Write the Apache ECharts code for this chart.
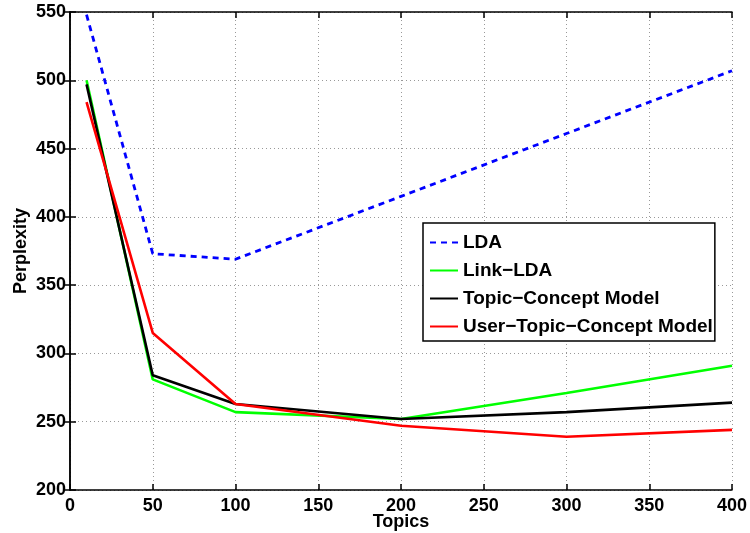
<!DOCTYPE html>
<html>
<head>
<meta charset="utf-8">
<script src="https://cdn.jsdelivr.net/npm/echarts@6/dist/echarts.min.js"></script>
<style>
  html, body { margin: 0; padding: 0; background: #fff; }
  #chart { width: 750px; height: 533px; }
</style>
</head>
<body>
<div id="chart"></div>
<script>
// Number of topics on the x axis
const topics = [10, 50, 100, 200, 300, 400];

// Perplexity per model
const ldaValues = [548, 373, 369, 415, 461, 507];
const linkLdaValues = [500, 281, 257, 252, 271, 291];
const topicConceptValues = [497, 284, 263, 252, 257, 264];
const userTopicConceptValues = [484, 315, 263, 247, 239, 244];

const seriesNames = ['LDA', 'Link\u2212LDA', 'Topic\u2212Concept Model', 'User\u2212Topic\u2212Concept Model'];

const FONT = 'Liberation Sans, Arial, Helvetica, sans-serif';

function pairs(values) {
  return topics.map((t, i) => [t, values[i]]);
}

const chart = echarts.init(document.getElementById('chart'), null, { renderer: 'canvas' });

const frameLine = { show: true, lineStyle: { color: '#000', width: 1.5 } };
const innerTick = { show: true, inside: true, length: 6, lineStyle: { color: '#000', width: 1.5 } };
const dottedGrid = { show: true, lineStyle: { color: '#999', type: [1, 3], width: 1 } };

chart.setOption({
  animation: false,
  backgroundColor: '#fff',
  grid: { left: 70, right: 18, top: 12, bottom: 43, containLabel: false, outerBoundsMode: 'none' },
  legend: {
    orient: 'vertical',
    left: 423,
    top: 223,
    padding: [10, 2, 5, 6],
    itemGap: 9,
    itemWidth: 28,
    itemHeight: 19,
    backgroundColor: '#fff',
    borderColor: '#000',
    borderWidth: 1.5,
    borderRadius: 0,
    itemStyle: { opacity: 0 },
    textStyle: { fontFamily: FONT, fontWeight: 'bold', fontSize: 19, color: '#000' },
    data: seriesNames
  },
  xAxis: [
    {
      type: 'value', min: 0, max: 400, interval: 50,
      name: 'Topics', nameLocation: 'middle', nameGap: 23, nameMoveOverlap: false,
      nameTextStyle: { fontFamily: FONT, fontWeight: 'bold', fontSize: 18, color: '#000' },
      axisLine: frameLine, axisTick: innerTick,
      axisLabel: { fontFamily: FONT, fontWeight: 'bold', fontSize: 18, color: '#000', margin: 7 },
      splitLine: dottedGrid
    },
    {
      type: 'value', min: 0, max: 400, interval: 50, position: 'top',
      axisLine: frameLine, axisTick: innerTick,
      axisLabel: { show: false }, splitLine: { show: false }
    }
  ],
  yAxis: [
    {
      type: 'value', min: 200, max: 550, interval: 50,
      name: 'Perplexity', nameLocation: 'middle', nameGap: 40, nameMoveOverlap: false,
      nameTextStyle: { fontFamily: FONT, fontWeight: 'bold', fontSize: 18, color: '#000' },
      axisLine: frameLine, axisTick: innerTick,
      axisLabel: { fontFamily: FONT, fontWeight: 'bold', fontSize: 18, color: '#000', margin: 4 },
      splitLine: dottedGrid
    },
    {
      type: 'value', min: 200, max: 550, interval: 50, position: 'right',
      axisLine: frameLine, axisTick: innerTick,
      axisLabel: { show: false }, splitLine: { show: false }
    }
  ],
  series: [
    {
      name: seriesNames[0], type: 'line', data: pairs(ldaValues),
      symbol: 'none', color: '#0000ff',
      lineStyle: { color: '#0000ff', width: 2.8, type: [6, 5] }
    },
    {
      name: seriesNames[1], type: 'line', data: pairs(linkLdaValues),
      symbol: 'none', color: '#00ff00',
      lineStyle: { color: '#00ff00', width: 2.6 }
    },
    {
      name: seriesNames[2], type: 'line', data: pairs(topicConceptValues),
      symbol: 'none', color: '#000000',
      lineStyle: { color: '#000000', width: 2.6 }
    },
    {
      name: seriesNames[3], type: 'line', data: pairs(userTopicConceptValues),
      symbol: 'none', color: '#ff0000',
      lineStyle: { color: '#ff0000', width: 2.6 }
    }
  ]
});
</script>
</body>
</html>
